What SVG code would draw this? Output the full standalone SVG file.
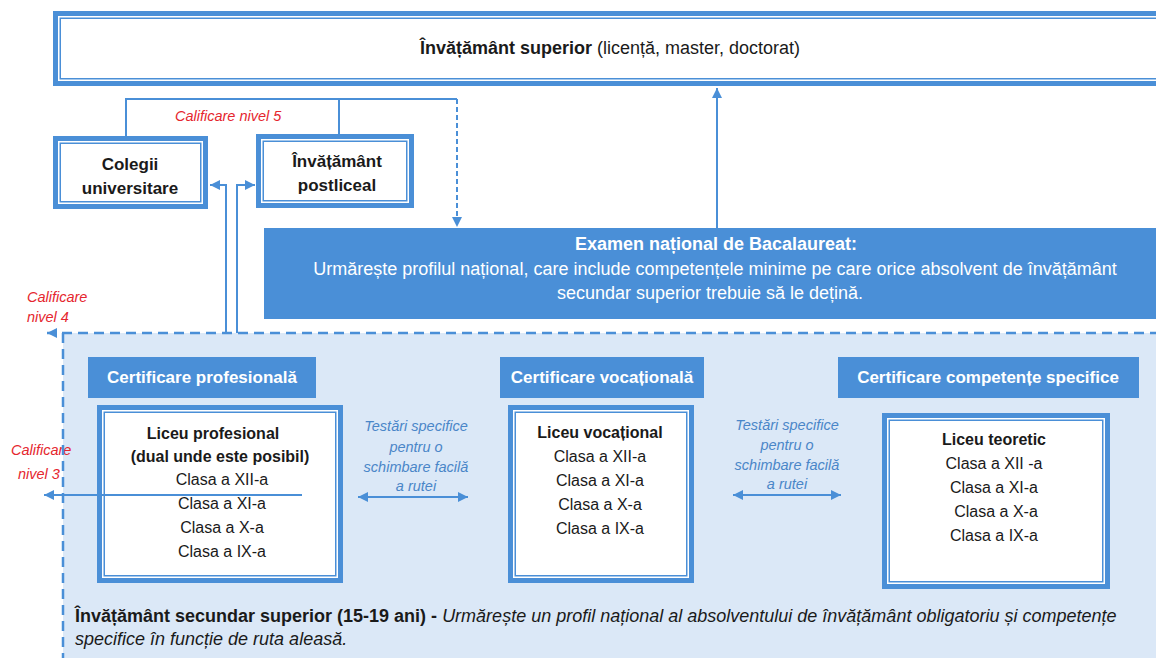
<svg xmlns="http://www.w3.org/2000/svg" width="1156" height="658" viewBox="0 0 1156 658">
<defs>
<style>
.fo{fill:#fff;stroke:#4a8fd7;stroke-width:5}
.fi{fill:none;stroke:#4a8fd7;stroke-width:1.5}
.fill{fill:#4a8fd7}
.t{font-family:"Liberation Sans",Arial,sans-serif;fill:#1a1a1a;text-anchor:middle}
.s16{font-size:16px}
.s17{font-size:17px}
.s18{font-size:18px}
.b{font-weight:bold}
.i{font-style:italic}
.w{fill:#fff}
.red{fill:#e5262e;font-style:italic;font-size:14.5px;text-anchor:start}
.blu{fill:#4a86c8;font-style:italic;font-size:14.5px}
.ln{fill:none;stroke:#4a8fd7;stroke-width:2}
.dsh{stroke-dasharray:5 3}
.bigdash{fill:none;stroke:#4a8fd7;stroke-width:2.5;stroke-dasharray:10 6}
</style>
<marker id="ah" viewBox="0 0 10 10" refX="10" refY="5" markerWidth="10" markerHeight="10" markerUnits="userSpaceOnUse" orient="auto-start-reverse"><path d="M0,0 L10,5 L0,10 z" fill="#4a8fd7"/></marker>
</defs>
<rect x="0" y="0" width="1156" height="658" fill="#fff"/>
<rect id="region" x="63" y="333" width="1100" height="330" fill="#dbe8f7"/>

<g id="superior">
<rect class="fo" x="55.5" y="13.5" width="1115" height="70"/>
<rect class="fi" x="60.25" y="18.25" width="1105.5" height="60.5"/>
<text class="t s18" x="610" y="54"><tspan class="b">Învățământ superior</tspan> (licență, master, doctorat)</text>
</g>

<g id="colegii">
<rect class="fo" x="55.5" y="138.5" width="150" height="68"/>
<rect class="fi" x="60.25" y="143.25" width="140.5" height="58.5"/>
<text class="t s17 b" x="130" y="170">Colegii</text>
<text class="t s17 b" x="130" y="194">universitare</text>
</g>

<g id="postliceal">
<rect class="fo" x="258.5" y="136.5" width="153" height="69"/>
<rect class="fi" x="263.25" y="141.25" width="143.5" height="59.5"/>
<text class="t s17 b" x="337" y="167">Învățământ</text>
<text class="t s17 b" x="337" y="191">postliceal</text>
</g>

<g id="bacalaureat">
<rect class="fill" x="264" y="228" width="900" height="91"/>
<text class="t s18 b w" x="716" y="250">Examen național de Bacalaureat:</text>
<text class="t s18 w" x="715" y="275">Urmărește profilul național, care include competențele minime pe care orice absolvent de învățământ</text>
<text class="t s18 w" x="710" y="299">secundar superior trebuie să le dețină.</text>
</g>

<g id="cert-profesionala">
<rect class="fill" x="88" y="357" width="228" height="41"/>
<text class="t s17 b w" x="202" y="383">Certificare profesională</text>
</g>
<g id="cert-vocationala">
<rect class="fill" x="500" y="357" width="204" height="41"/>
<text class="t s17 b w" x="602" y="383">Certificare vocațională</text>
</g>
<g id="cert-competente">
<rect class="fill" x="838" y="357" width="301" height="41"/>
<text class="t s17 b w" x="988" y="383">Certificare competențe specifice</text>
</g>

<g id="liceu-profesional">
<rect class="fo" x="99.5" y="407.5" width="241" height="173"/>
<rect class="fi" x="104.25" y="412.25" width="231.5" height="163.5"/>
<text class="t s16 b" x="213" y="439">Liceu profesional</text>
<text class="t s16 b" x="220" y="462">(dual unde este posibil)</text>
<text class="t s16" x="222" y="485">Clasa a XII-a</text>
<text class="t s16" x="222" y="509">Clasa a XI-a</text>
<text class="t s16" x="222" y="533">Clasa a X-a</text>
<text class="t s16" x="222" y="557">Clasa a IX-a</text>
</g>

<g id="liceu-vocational">
<rect class="fo" x="510.5" y="407.5" width="181" height="173"/>
<rect class="fi" x="515.25" y="412.25" width="171.5" height="163.5"/>
<text class="t s16 b" x="600" y="438">Liceu vocațional</text>
<text class="t s16" x="600" y="462">Clasa a XII-a</text>
<text class="t s16" x="600" y="486">Clasa a XI-a</text>
<text class="t s16" x="600" y="510">Clasa a X-a</text>
<text class="t s16" x="600" y="534">Clasa a IX-a</text>
</g>

<g id="liceu-teoretic">
<rect class="fo" x="884.5" y="415.5" width="223" height="171"/>
<rect class="fi" x="889.25" y="420.25" width="213.5" height="161.5"/>
<text class="t s16 b" x="994" y="445">Liceu teoretic</text>
<text class="t s16" x="994" y="469">Clasa a XII -a</text>
<text class="t s16" x="994" y="493">Clasa a XI-a</text>
<text class="t s16" x="996" y="517">Clasa a X-a</text>
<text class="t s16" x="994" y="541">Clasa a IX-a</text>
</g>

<g id="testari-1">
<text class="t blu" x="416" y="431">Testări specifice</text>
<text class="t blu" x="416" y="452">pentru o</text>
<text class="t blu" x="416" y="472">schimbare facilă</text>
<text class="t blu" x="416" y="491">a rutei</text>
</g>
<g id="testari-2">
<text class="t blu" x="787" y="430">Testări specifice</text>
<text class="t blu" x="787" y="450">pentru o</text>
<text class="t blu" x="787" y="470">schimbare facilă</text>
<text class="t blu" x="787" y="489">a rutei</text>
</g>

<g id="labels">
<text class="t red" x="175" y="121">Calificare nivel 5</text>
<text class="t red" x="27" y="302">Calificare</text>
<text class="t red" x="27" y="322">nivel 4</text>
<text class="t red" x="11" y="455">Calificare</text>
<text class="t red" x="18" y="479">nivel 3</text>
</g>

<g id="footer">
<text class="t s18" x="75" y="622" style="text-anchor:start"><tspan class="b">Învățământ secundar superior (15-19 ani) - </tspan><tspan class="i">Urmărește un profil național al absolventului de învățământ obligatoriu și competențe</tspan></text>
<text class="t s18 i" x="75" y="645" style="text-anchor:start">specifice în funcție de ruta aleasă.</text>
</g>

<g id="connectors">
<path class="ln" d="M717,228 V88" marker-end="url(#ah)"/>
<path class="ln" d="M126,136 V99 H457"/>
<path class="ln" d="M339,134 V99"/>
<path class="ln dsh" d="M457,99 V227" marker-end="url(#ah)"/>
<path class="ln" d="M226,333 V185 H210" marker-end="url(#ah)"/>
<path class="ln" d="M237,333 V185 H255" marker-end="url(#ah)"/>
<path class="bigdash" d="M1160,333 H47" marker-end="url(#ah)"/>
<path class="bigdash" d="M63,333 V660"/>
<path class="ln" d="M302,495 H44" marker-end="url(#ah)"/>
<path class="ln" d="M358,497 H468" marker-start="url(#ah)" marker-end="url(#ah)"/>
<path class="ln" d="M733,495 H841" marker-start="url(#ah)" marker-end="url(#ah)"/>
</g>
</svg>
